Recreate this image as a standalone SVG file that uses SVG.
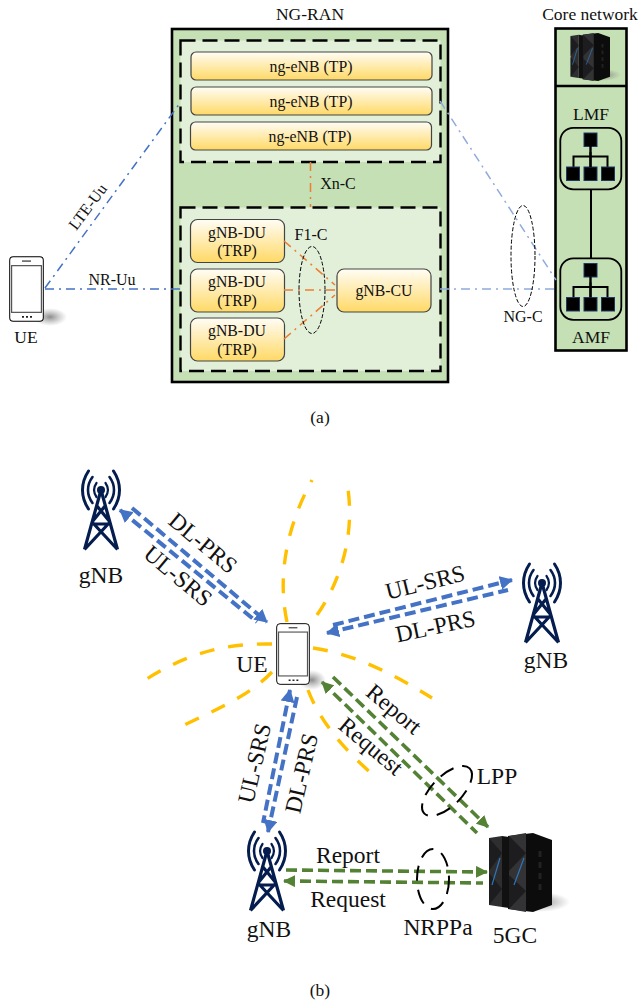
<svg xmlns="http://www.w3.org/2000/svg" xmlns:xlink="http://www.w3.org/1999/xlink" width="639" height="1003" viewBox="0 0 639 1003">
<style>
text{font-family:"Liberation Serif","Times New Roman",serif;fill:#111;text-anchor:middle}
.a{font-size:17.500px}.b{font-size:23.500px}.c{font-size:15.800px}.d{font-size:16px}
.green{fill:#c5e0b4;stroke:#000;stroke-width:2.6}
.light{fill:#e2f0d9;stroke:#000;stroke-width:2.4;stroke-dasharray:15 7}
.gb{fill:url(#gold);stroke:#444;stroke-width:1.2}
.ring{fill:none;stroke:#000;stroke-width:1;stroke-dasharray:4 2}
.ring2{fill:none;stroke:#000;stroke-width:2;stroke-dasharray:15 9}
.lb{fill:none;stroke:#4472c4;stroke-width:1.500;stroke-dasharray:9 5 2 5}
.lp{fill:none;stroke:#8faadc;stroke-width:1.500;stroke-dasharray:9 5 2 5}
.lo{fill:none;stroke:#ed7d31;stroke-width:1.500;stroke-dasharray:9 5 2 5}
.ab{fill:none;stroke:#4472c4;stroke-width:4;stroke-dasharray:11 5}
.ag{fill:none;stroke:#548235;stroke-width:3.6;stroke-dasharray:11 5}
.y{fill:none;stroke:#ffc000;stroke-width:3.400;stroke-dasharray:15 14}
.tn{fill:#000;stroke:#203864;stroke-width:1}
</style>
<defs>
<linearGradient id="gold" x1="0" y1="0" x2="0" y2="1"><stop offset="0" stop-color="#fffdf5"/><stop offset="1" stop-color="#ffd966"/></linearGradient>
<radialGradient id="sh"><stop offset="0" stop-color="#666" stop-opacity=".75"/><stop offset="1" stop-color="#888" stop-opacity="0"/></radialGradient>
<marker id="mb" markerUnits="userSpaceOnUse" markerWidth="14" markerHeight="14" refX="12" refY="7" orient="auto-start-reverse"><path d="M0 0L13 7L0 14Z" fill="#4472c4"/></marker>
<marker id="mg" markerUnits="userSpaceOnUse" markerWidth="12" markerHeight="12" refX="11" refY="6" orient="auto-start-reverse"><path d="M0 0L12 6L0 12Z" fill="#548235"/></marker>
<symbol id="phone" viewBox="0 0 35 65" preserveAspectRatio="none" overflow="visible">
<rect x="0.700" y="0.700" width="33.600" height="63.600" rx="3.500" fill="#fff" stroke="#000" stroke-width="1"/>
<rect x="2.600" y="9.500" width="29.800" height="46" fill="#fff" stroke="#555" stroke-width="1.200"/>
<line x1="13" y1="5" x2="22" y2="5" stroke="#333" stroke-width="1.200"/>
<path d="M13 60h2M17 60h2M21 60h2" stroke="#222" stroke-width="1.600"/>
</symbol>
<symbol id="tower" viewBox="0 0 38 80" overflow="visible">
<g fill="none" stroke="#041c4e" stroke-linecap="round">
<path d="M6.500 1C-1.500 13 -1.500 27 6.500 39" stroke-width="3"/>
<path d="M31.500 1C39.500 13 39.500 27 31.500 39" stroke-width="3"/>
<path d="M10.500 7C4.500 15 4.500 25 10.500 33" stroke-width="2.600"/>
<path d="M27.500 7C33.500 15 33.500 25 27.500 33" stroke-width="2.600"/>
<path d="M14.500 13C11 18 11 22 14.500 27" stroke-width="2.200"/>
<path d="M23.500 13C27 18 27 22 23.500 27" stroke-width="2.200"/>
<path d="M19 20L2.500 79.500M19 20L35.500 79.500M15 36L28 52M23 36L10 52M10 52L35.500 79.500M28 52L2.500 79.500M10 54H28" stroke-width="3.200" stroke-linecap="butt"/>
</g>
<circle cx="19" cy="20" r="4" fill="#041c4e"/>
</symbol>
<symbol id="server" viewBox="0 0 64 79" preserveAspectRatio="none" overflow="visible">
<ellipse cx="52" cy="69" rx="30" ry="10" fill="url(#sh)"/>
<path d="M20 3L45 0L64 7V72L45 79L20 76Z" fill="#0c0c0c"/>
<path d="M1 5L14 3V74L1 72Z" fill="#2e2e30"/>
<path d="M21 3L38 0V79L21 76Z" fill="#333335"/>
<path d="M14 3L21 4V75L14 74Z" fill="#111"/>
<path d="M1 5L14 20L1 38ZM21 3L38 20L21 38ZM1 40L14 56L1 72ZM21 42L38 58L21 76Z" fill="#1d1d1f"/>
<path d="M12 25L4 52M36 25L26 52" stroke="#2e75b6" stroke-width="1.200" fill="none"/>
<path d="M52 18V60" stroke="#222" stroke-width="3" stroke-dasharray="6 5"/>
</symbol>
<symbol id="tree" viewBox="0 0 62 63" overflow="visible">
<rect x="0.800" y="0.800" width="61" height="61.500" rx="13" fill="none" stroke="#000" stroke-width="1.800"/>
<path d="M31 25V40M14 40V29.500H48V40" fill="none" stroke="#000" stroke-width="2"/>
<rect x="24.500" y="6" width="13" height="13.500" class="tn"/>
<rect x="7" y="40" width="13" height="13.500" class="tn"/><rect x="24.500" y="40" width="13" height="13.500" class="tn"/><rect x="42" y="40" width="13" height="13.500" class="tn"/>
<rect x="29.800" y="19" width="2.400" height="21" fill="#000"/>
</symbol>
</defs>

<text class="a" x="310" y="20">NG-RAN</text>
<text class="a" x="590" y="20">Core network</text>
<g id="ng-ran">
<rect class="green" x="172" y="29" width="276" height="353"/>
<rect class="light" x="180.500" y="40.500" width="260" height="121.500"/>
<rect class="light" x="180.500" y="207.500" width="260" height="163.500"/>
</g>
<g id="ng-enb-1"><rect class="gb" x="191" y="52" width="241" height="28" rx="5"/><text class="c" x="311" y="72">ng-eNB (TP)</text></g>
<g id="ng-enb-2"><rect class="gb" x="191" y="87" width="241" height="28" rx="5"/><text class="c" x="311" y="107">ng-eNB (TP)</text></g>
<g id="ng-enb-3"><rect class="gb" x="190.500" y="122" width="241" height="28" rx="5"/><text class="c" x="310" y="142">ng-eNB (TP)</text></g>
<g id="gnb-du-1"><rect class="gb" x="190.500" y="219.500" width="94" height="43" rx="7"/><text class="c" x="237" y="238">gNB-DU</text><text class="c" x="237" y="256">(TRP)</text></g>
<g id="gnb-du-2"><rect class="gb" x="190.500" y="269" width="94" height="43" rx="7"/><text class="c" x="237" y="287">gNB-DU</text><text class="c" x="237" y="306">(TRP)</text></g>
<g id="gnb-du-3"><rect class="gb" x="190.500" y="318" width="94" height="43" rx="7"/><text class="c" x="237" y="336">gNB-DU</text><text class="c" x="237" y="355">(TRP)</text></g>
<g id="gnb-cu"><rect class="gb" x="337" y="269" width="94" height="43" rx="7"/><text class="c" x="384" y="296">gNB-CU</text></g>
<g id="core">
<rect class="green" x="555.500" y="28.500" width="71" height="322"/>
<line x1="555" y1="86" x2="627" y2="86" stroke="#000" stroke-width="2.400"/>
<use xlink:href="#server" href="#server" x="570" y="33" width="40" height="48"/>
<line x1="591" y1="190" x2="591" y2="258" stroke="#000" stroke-width="2"/>
</g>
<g id="lmf"><text class="a" x="591" y="120">LMF</text><use xlink:href="#tree" href="#tree" x="559.500" y="127" width="62" height="63"/></g>
<g id="amf"><use xlink:href="#tree" href="#tree" x="559.500" y="257.500" width="62" height="63"/><text class="a" x="591" y="343">AMF</text></g>
<g id="ue-a">
<ellipse cx="50" cy="317" rx="17" ry="9" fill="url(#sh)"/>
<use xlink:href="#phone" href="#phone" x="9" y="256" width="35" height="66"/>
<text class="a" x="26" y="343">UE</text>
</g>
<g id="connectors-a">
<path class="lb" d="M45 288L180 103"/>
<path class="lb" d="M45 289H181"/>
<path class="lp" d="M440 101L556 280"/>
<path class="lp" d="M440 289H557"/>
<path class="lo" d="M310.500 162V207"/>
<path class="lo" d="M284 241L335 285"/>
<path class="lo" d="M284 290H335"/>
<path class="lo" d="M284 339L335 295"/>
<ellipse class="ring" cx="312" cy="290" rx="13" ry="43.500"/>
<ellipse class="ring" cx="523" cy="256" rx="12" ry="50.500"/>
</g>
<text class="d" transform="translate(92 210) rotate(-53)">LTE-Uu</text>
<text class="d" x="112" y="285">NR-Uu</text>
<text class="d" x="338" y="189">Xn-C</text>
<text class="d" x="311" y="240">F1-C</text>
<text class="d" x="523" y="322">NG-C</text>
<text class="a" x="320" y="423">(a)</text>

<g id="yellow-beams">
<path class="y" d="M287 622C279 585 282 535 312 480"/>
<path class="y" d="M317 615C338 585 355 540 348 489"/>
<path class="y" d="M272 644C222 643 185 655 145 680"/>
<path class="y" d="M272 672C250 695 220 708 180 727"/>
<path class="y" d="M313 648C355 654 395 675 432 698"/>
<path class="y" d="M308 690C320 722 345 750 371 773"/>
</g>
<g id="connectors-b">
<path class="ab" d="M132 508L267 622" marker-end="url(#mb)"/>
<path class="ab" d="M120 510L257 622" marker-start="url(#mb)"/>
<path class="ab" d="M333 625L512 580" marker-end="url(#mb)"/>
<path class="ab" d="M327 633L508 590" marker-start="url(#mb)"/>
<path class="ab" d="M290 690L263 823" marker-start="url(#mb)"/>
<path class="ab" d="M297 697L268 832" marker-end="url(#mb)"/>
<path class="ag" d="M333 677L488 827" marker-end="url(#mg)"/>
<path class="ag" d="M322 682L477 833" marker-start="url(#mg)"/>
<path class="ag" d="M286 870L487 872" marker-end="url(#mg)"/>
<path class="ag" d="M284 881L483 883" marker-start="url(#mg)"/>
<ellipse class="ring2" cx="433" cy="879" rx="16" ry="30"/>
<ellipse class="ring2" cx="447" cy="791" rx="32" ry="15" transform="rotate(-45 447 791)"/>
</g>
<g id="gnb-1"><use xlink:href="#tower" href="#tower" x="82" y="470" width="38" height="80"/><text class="b" x="101" y="583">gNB</text></g>
<g id="gnb-2"><use xlink:href="#tower" href="#tower" x="523" y="563" width="38" height="80"/><text class="b" x="546" y="668">gNB</text></g>
<g id="gnb-3"><use xlink:href="#tower" href="#tower" x="248" y="831" width="38" height="80"/><text class="b" x="269" y="937">gNB</text></g>
<g id="ue-b">
<ellipse cx="312" cy="680" rx="14" ry="10" fill="url(#sh)"/>
<use xlink:href="#phone" href="#phone" x="276" y="623" width="34" height="62"/>
<text class="b" x="252" y="672">UE</text>
</g>
<g id="core-5gc"><use xlink:href="#server" href="#server" x="488" y="833" width="64" height="79"/><text class="b" x="515" y="943">5GC</text></g>
<text class="b" transform="translate(198 549) rotate(40)">DL-PRS</text>
<text class="b" transform="translate(173 582) rotate(40)">UL-SRS</text>
<text class="b" transform="translate(427 590) rotate(-14)">UL-SRS</text>
<text class="b" transform="translate(437 634) rotate(-12)">DL-PRS</text>
<text class="b" transform="translate(389 715) rotate(40)">Report</text>
<text class="b" transform="translate(366 752) rotate(40)">Request</text>
<text class="b" transform="translate(262 765) rotate(-77)">UL-SRS</text>
<text class="b" transform="translate(309 775) rotate(-77)">DL-PRS</text>
<text class="b" x="348" y="863">Report</text>
<text class="b" x="348" y="907">Request</text>
<text class="b" x="497" y="784">LPP</text>
<text class="b" x="438" y="935">NRPPa</text>
<text class="a" x="320" y="996">(b)</text>
</svg>
